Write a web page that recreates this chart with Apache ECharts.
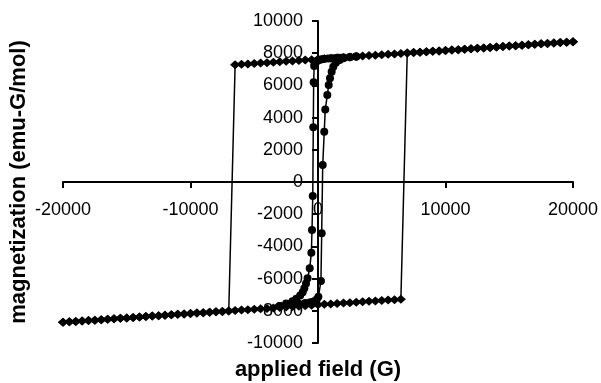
<!DOCTYPE html>
<html>
<head>
<meta charset="utf-8">
<script src="https://cdn.jsdelivr.net/npm/echarts@6/dist/echarts.min.js"></script>
<style>
  html, body { margin: 0; padding: 0; background: #fff; }
  #chart { width: 601px; height: 383px; }
</style>
</head>
<body>
<div id="chart"></div>
<script>
// Field grid (G) for the wide loop, swept -20 kG .. +20 kG in 500 G steps
const fieldGrid = [
  -20000, -19500, -19000, -18500, -18000, -17500, -17000, -16500, -16000, -15500,
  -15000, -14500, -14000, -13500, -13000, -12500, -12000, -11500, -11000, -10500,
  -10000, -9500, -9000, -8500, -8000, -7500, -7000, -6500, -6000, -5500,
  -5000, -4500, -4000, -3500, -3000, -2500, -2000, -1500, -1000, -500,
  0, 500, 1000, 1500, 2000, 2500, 3000, 3500, 4000, 4500,
  5000, 5500, 6000, 6500, 7000, 7500, 8000, 8500, 9000, 9500,
  10000, 10500, 11000, 11500, 12000, 12500, 13000, 13500, 14000, 14500,
  15000, 15500, 16000, 16500, 17000, 17500, 18000, 18500, 19000, 19500, 20000
];

// Wide loop, decreasing field sweep (+20 kG -> -20 kG), emu-G/mol
const wideDownM = [
  8710, 8680, 8660, 8630, 8600, 8580, 8550, 8520, 8490, 8470,
  8440, 8410, 8390, 8360, 8330, 8310, 8280, 8250, 8220, 8200,
  8170, 8140, 8120, 8090, 8060, 8040, 8010, 7980, 7950, 7930,
  7900, 7870, 7850, 7820, 7790, 7770, 7740, 7710, 7680, 7660,
  7630, 7600, 7580, 7550, 7520, 7500, 7470, 7440, 7410, 7390,
  7360, 7330, 7310, 7280,
  -8010, -8040, -8060, -8090, -8120, -8140, -8170, -8200, -8220, -8250,
  -8280, -8310, -8330, -8360, -8390, -8410, -8440, -8470, -8490, -8520,
  -8550, -8580, -8600, -8630, -8660, -8680, -8710
];

// Wide loop, increasing field sweep (-20 kG -> +20 kG)
const wideUpM = [
  -8710, -8680, -8660, -8630, -8600, -8580, -8550, -8520, -8490, -8470,
  -8440, -8410, -8390, -8360, -8330, -8310, -8280, -8250, -8220, -8200,
  -8170, -8140, -8120, -8090, -8060, -8040, -8010, -7980, -7950, -7930,
  -7900, -7870, -7850, -7820, -7790, -7770, -7740, -7710, -7680, -7660,
  -7630, -7600, -7580, -7550, -7520, -7500, -7470, -7440, -7410, -7390,
  -7360, -7330, -7310, -7280,
  8010, 8040, 8060, 8090, 8120, 8140, 8170, 8200, 8220, 8250,
  8280, 8310, 8330, 8360, 8390, 8410, 8440, 8470, 8490, 8520,
  8550, 8580, 8600, 8630, 8660, 8680, 8710
];

// Narrow loop, decreasing field sweep
const narrowDownH = [3000, 2500, 2000, 1700, 1400, 1100, 800, 500, 300, 150, 0, -100, -200, -260, -300,
  -340, -370, -410, -470, -520, -650, -820, -940, -1070, -1200, -1400, -1700, -2000, -2500, -3000];
const narrowDownM = [7790, 7770, 7740, 7720, 7700, 7690, 7670, 7650, 7630, 7600, 7560, 7500, 7400, 7300, 7200,
  6200, 3400, -870, -2980, -4400, -5350, -5980, -6300, -6600, -6850, -7050, -7250, -7400, -7550, -7700];

// Narrow loop, increasing field sweep
const narrowUpH = [-3000, -2500, -2000, -1500, -1000, -600, -300, -100, 30, 230, 290, 370, 490, 570, 730,
  840, 940, 1070, 1200, 1400, 1700, 2000, 2500, 3000];
const narrowUpM = [-7700, -7650, -7600, -7560, -7520, -7470, -7400, -7300, -7130, -6150, -3190, 1050, 3120, 4500, 5400,
  6020, 6440, 6850, 7160, 7410, 7580, 7680, 7750, 7790];

// Axis tick values
const xTicks = [-20000, -10000, 0, 10000, 20000];
const yTicks = [-10000, -8000, -6000, -4000, -2000, 0, 2000, 4000, 6000, 8000, 10000];

const fieldDown = fieldGrid.slice().reverse();
const wideLoop = fieldDown.map((h, i) => [h, wideDownM[i]])
  .concat(fieldGrid.map((h, i) => [h, wideUpM[i]]));
const narrowLoop = narrowDownH.map((h, i) => [h, narrowDownM[i]])
  .concat(narrowUpH.map((h, i) => [h, narrowUpM[i]]));

// Plot area; the axes cross at the origin, so each axis is shifted
// inwards from its grid edge to the zero line of the other axis.
const GRID = { left: 63, right: 28, top: 21, bottom: 40 };
const W = 601, H = 383;
const plotW = W - GRID.left - GRID.right;
const plotH = H - GRID.top - GRID.bottom;
const xMin = xTicks[0], xMax = xTicks[xTicks.length - 1];
const yMin = yTicks[0], yMax = yTicks[yTicks.length - 1];
const xZeroShift = plotW * (0 - xMin) / (xMax - xMin);
const yZeroShift = plotH * (0 - yMin) / (yMax - yMin);

const FONT = '"Liberation Sans", Arial, sans-serif';
const axisCommon = {
  type: 'value',
  splitLine: { show: false },
  axisLine: { onZero: false, lineStyle: { color: '#000', width: 2 } },
  axisTick: { show: true, inside: false, length: 6, lineStyle: { color: '#000', width: 2 } },
  nameLocation: 'middle',
  nameTextStyle: { color: '#000', fontFamily: FONT, fontWeight: 'bold', fontSize: 22 }
};
const plainNumber = v => String(v);

const chart = echarts.init(document.getElementById('chart'), null, { renderer: 'canvas' });
chart.setOption({
  animation: false,
  backgroundColor: '#fff',
  grid: Object.assign({ containLabel: false, outerBoundsMode: 'none' }, GRID),
  xAxis: Object.assign({}, axisCommon, {
    position: 'bottom', offset: -yZeroShift,
    min: xMin, max: xMax, interval: xTicks[1] - xTicks[0],
    name: 'applied field (G)', nameGap: 177,
    axisLabel: { color: '#000', fontFamily: FONT, fontSize: 18, margin: 19, formatter: plainNumber }
  }),
  yAxis: Object.assign({}, axisCommon, {
    position: 'left', offset: -xZeroShift,
    min: yMin, max: yMax, interval: yTicks[1] - yTicks[0],
    name: 'magnetization (emu-G/mol)', nameGap: 288, nameRotate: 90,
    axisLabel: { color: '#000', fontFamily: FONT, fontSize: 18, margin: 15, formatter: plainNumber }
  }),
  series: [
    {
      type: 'line', data: wideLoop, symbol: 'diamond', symbolSize: [10, 9], showAllSymbol: true,
      lineStyle: { color: '#000', width: 1.5 }, itemStyle: { color: '#000' }, z: 2
    },
    {
      type: 'line', data: narrowLoop, symbol: 'circle', symbolSize: 8, showAllSymbol: true,
      lineStyle: { color: '#000', width: 1.5 }, itemStyle: { color: '#000' }, z: 3
    }
  ]
});
</script>
</body>
</html>
